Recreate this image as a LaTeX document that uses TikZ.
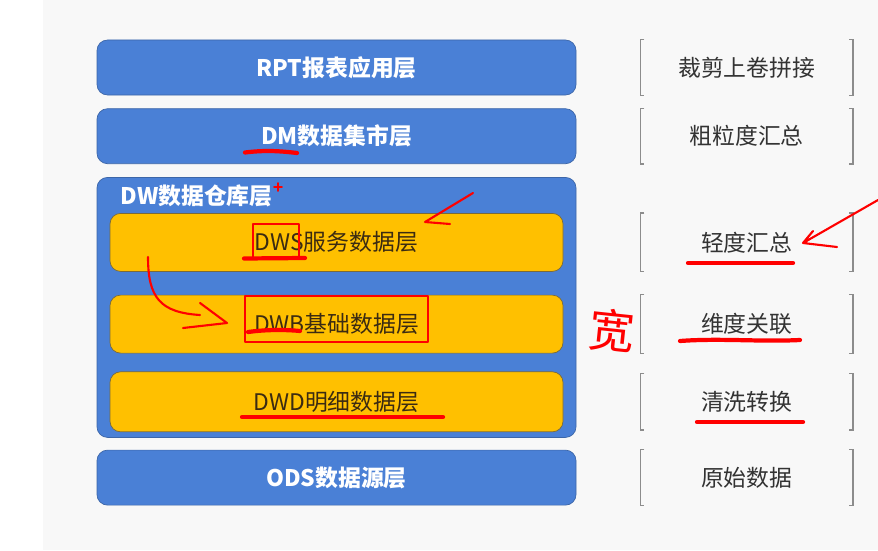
\documentclass[tikz,border=0pt]{standalone}
\usepackage{fontspec}
\setmainfont{Noto Sans CJK SC}
\usepackage{xcolor}
\usepackage{tikz}
\usetikzlibrary{positioning,arrows.meta,calc}
\definecolor{tierblue}{HTML}{4A80D6}
\definecolor{tierline}{HTML}{3C66A8}
\definecolor{subyellow}{HTML}{FFC000}
\definecolor{subline}{HTML}{7A6A3A}
\definecolor{subtext}{HTML}{3B2B12}
\definecolor{notetext}{HTML}{333333}
\definecolor{brkgray}{HTML}{8C8C8C}
\definecolor{pagegray}{HTML}{F8F8F8}
\definecolor{inkred}{HTML}{FF0000}

\begin{document}
\begin{tikzpicture}[
    node distance=0.26cm and 1.28cm,
    tier/.style={draw=tierline, fill=tierblue, rounded corners=6pt, minimum width=9.58cm, minimum height=1.1cm, align=center, text=white, font=\fontsize{13}{15}\selectfont\bfseries},
    subtier/.style={tier, draw=subline, fill=subyellow, minimum width=9.06cm, minimum height=1.16cm, text=subtext, font=\fontsize{13}{15}\selectfont},
    note/.style={minimum width=4.24cm, minimum height=1.1cm, text=notetext, font=\fontsize{13}{15}\selectfont},
    brk/.style={draw=brkgray, line width=0.8pt},
    ink/.style={inkred, line width=1.2pt, line cap=round, line join=round},
    inkbold/.style={ink, line width=2.4pt}
]
% Page
\useasboundingbox (0,0) rectangle (17.56,-11);
\fill[white] (0,0) rectangle (0.86,-11);
\fill[pagegray] (0.86,0) rectangle (17.56,-11);

% Layer stack
\node[tier] (rpt) at (6.73,-1.35) {RPT报表应用层};
\node[tier, below=of rpt] (dm) {DM数据集市层};
\node[tier, below=of dm, minimum height=5.2cm] (dw) {};
\node[anchor=west, text=white, font=\fontsize{13}{15}\selectfont\bfseries] (dwtitle) at ([xshift=0.35cm, yshift=-0.38cm]dw.north west) {DW数据仓库层};
\node[subtier, below=0.72cm of dw.north] (dws) {DWS服务数据层};
\node[subtier, below=0.46cm of dws] (dwb) {DWB基础数据层};
\node[subtier, below=0.36cm of dwb, minimum height=1.2cm] (dwd) {DWD明细数据层};
\node[tier, below=0.24cm of dw] (ods) {ODS数据源层};

% Notes
\node[note, right=of rpt] (nrpt) {裁剪上卷拼接};
\node[note, right=of dm] (ndm) {粗粒度汇总};
\node[note, right=1.54cm of dws, minimum height=1.16cm] (ndws) {轻度汇总};
\node[note, right=1.54cm of dwb, minimum height=1.16cm] (ndwb) {维度关联};
\node[note, right=1.54cm of dwd, minimum height=1.12cm] (ndwd) {清洗转换};
\node[note, right=of ods] (nods) {原始数据};
\foreach \n in {nrpt,ndm,ndws,ndwb,ndwd,nods} {
  \draw[brk] ([xshift=0.08cm]\n.north west) -- (\n.north west) -- (\n.south west) -- ++(0.08cm,0);
  \draw[brk] ([xshift=-0.08cm]\n.north east) -- (\n.north east) -- (\n.south east) -- ++(-0.08cm,0);
}

% Red pen marks
\draw[inkbold] (4.90,-3.05) .. controls (5.3,-3.0) and (5.6,-3.02) .. (5.94,-3.06);
\draw[ink, line width=0.9pt] (5.48,-3.74) -- (5.64,-3.74) (5.56,-3.66) -- (5.56,-3.82);
\draw[ink] (9.46,-3.86) -- (8.50,-4.44) -- (9.00,-4.48);
\draw[ink] (5.06,-4.48) rectangle (5.98,-5.18);
\draw[inkbold] (4.88,-5.17) -- (6.10,-5.16);
\draw[ink] (2.96,-5.14) .. controls (2.96,-5.95) and (3.20,-6.25) .. (4.00,-6.30);
\draw[ink] (4.00,-6.06) -- (4.54,-6.46) -- (3.66,-6.56);
\draw[ink] (4.90,-5.92) rectangle (8.56,-6.84);
\draw[inkbold] (4.96,-6.64) .. controls (5.4,-6.58) and (5.8,-6.6) .. (6.00,-6.62);
\draw[inkbold] (4.84,-8.34) -- (8.86,-8.34);
\draw[inkbold] (13.76,-5.26) -- (15.86,-5.26);
\draw[ink] (17.56,-4.00) -- (16.06,-4.86) -- (16.74,-4.94) (16.06,-4.86) -- (16.26,-4.62);
\draw[inkbold] (13.60,-6.82) .. controls (14.4,-6.76) and (15.2,-6.84) .. (16.00,-6.80);
\draw[inkbold] (13.94,-8.44) -- (16.06,-8.44);
\node[text=inkred, font=\fontsize{26}{26}\selectfont, rotate=-6] (kuan) at (12.24,-6.62) {宽};
\end{tikzpicture}
\end{document}
